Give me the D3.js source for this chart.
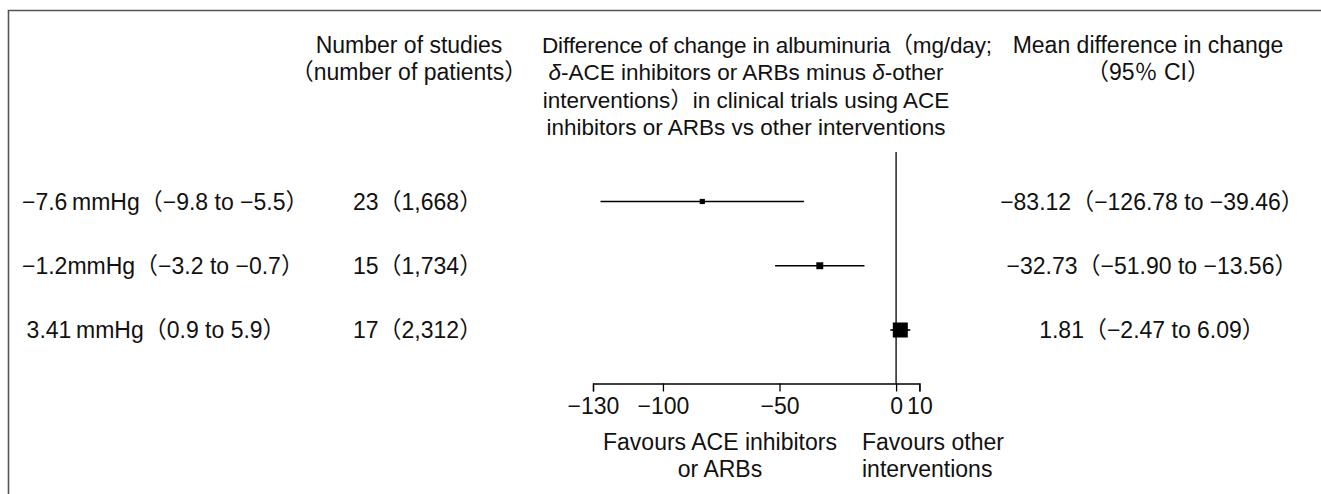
<!DOCTYPE html>
<html><head><meta charset="utf-8">
<script src="https://cdn.jsdelivr.net/npm/d3@7"></script>
<style>
html,body{margin:0;padding:0;background:#fff;}
svg{display:block;}
text{font-family:"Liberation Sans",Arial,"Noto Sans CJK JP",sans-serif;font-size:23px;fill:#111;}
</style></head>
<body><svg id="chart" width="1321" height="494"></svg>
<script>
// ---- data ----
const bpChange = ["−7.6\u2009mmHg（−9.8 to −5.5）", "−1.2mmHg（−3.2 to −0.7）", "\u20093.41\u2009mmHg（0.9 to 5.9）"];
const nStudies = [23, 15, 17];
const nPatients = [1668, 1734, 2312];
const meanDiff = [-83.12, -32.73, 1.81];
const ciLower = [-126.78, -51.90, -2.47];
const ciUpper = [-39.46, -13.56, 6.09];
const weights = [9, 16, 75];
const xTicks = [-130, -100, -50, 0, 10];
const headStudies = ["Number of studies", "（number of patients）"];
const headPlot = ["Difference of change in albuminuria（mg/day;", "δ-ACE inhibitors or ARBs minus δ-other", "interventions）in clinical trials using ACE", "inhibitors or ARBs vs other interventions"];
const headMean = ["Mean difference in change", "（95％ CI）"];
const favLeft = ["Favours ACE inhibitors", "or ARBs"];
const favRight = ["Favours other", "interventions"];

const svg = d3.select("#chart");
const x = d3.scaleLinear().domain([-130, 10]).range([593, 919.4]);
const y = d3.scalePoint().domain(d3.range(meanDiff.length)).range([201.5, 330]);
const size = d3.scaleSqrt().domain([0, d3.max(weights)]).range([0, 15]);
const f2 = d3.format(".2f");
const fc = d3.format(",");

// frame
svg.append("path").attr("d", "M8.5,494 L8.5,10.5 L1321,10.5")
  .attr("fill", "none").attr("stroke", "#555").attr("stroke-width", 1.6);

// headers
function lines(arr, xPos, y0, anchor) {
  svg.append("g").selectAll("text").data(arr).join("text")
    .attr("x", xPos).attr("y", (d, i) => y0 + i * 27.3)
    .attr("text-anchor", anchor).text(d => d);
}
lines(headStudies, 409, 53, "middle");
svg.append("g").selectAll("text").data(headPlot).join("text")
  .attr("x", (d, i) => i === 0 ? 542 : 746)
  .attr("y", (d, i) => 53 + i * 27.3)
  .attr("text-anchor", (d, i) => i === 0 ? "start" : "middle")
  .style("font-size", "22.5px")
  .each(function (d, i) {
    const t = d3.select(this);
    if (i === 0) t.attr("textLength", 450).attr("lengthAdjust", "spacing");
    const parts = d.split("δ");
    parts.forEach((p, j) => {
      if (j > 0) t.append("tspan").attr("font-style", "italic").text("δ");
      t.append("tspan").text(p);
    });
  });
lines(headMean, 1148, 53, "middle");

// rows
const rows = svg.append("g").selectAll("g").data(meanDiff).join("g");
rows.append("text").attr("x", 22).attr("y", (d, i) => y(i) + 8)
  .text((d, i) => bpChange[i]);
rows.append("text").attr("x", 353).attr("y", (d, i) => y(i) + 8)
  .text((d, i) => nStudies[i] + "（" + fc(nPatients[i]) + "）");
rows.append("text").attr("x", 1152).attr("y", (d, i) => y(i) + 8)
  .attr("text-anchor", "middle")
  .text((d, i) => f2(d) + "（" + f2(ciLower[i]) + " to " + f2(ciUpper[i]) + "）");

// zero line
svg.append("line").attr("x1", x(0)).attr("x2", x(0)).attr("y1", 152).attr("y2", 383.5)
  .attr("stroke", "#000").attr("stroke-width", 1.3);

// CI and markers
rows.append("line")
  .attr("x1", (d, i) => x(ciLower[i])).attr("x2", (d, i) => x(ciUpper[i]))
  .attr("y1", (d, i) => y(i)).attr("y2", (d, i) => y(i))
  .attr("stroke", "#000").attr("stroke-width", 1.6);
rows.append("rect")
  .attr("x", (d, i) => x(d) - size(weights[i]) / 2)
  .attr("y", (d, i) => y(i) - size(weights[i]) / 2)
  .attr("width", (d, i) => size(weights[i]))
  .attr("height", (d, i) => size(weights[i]))
  .attr("fill", "#000");

// axis
const axis = svg.append("g").attr("transform", "translate(0,383.5)")
  .call(d3.axisBottom(x).tickValues(xTicks).tickSize(8).tickPadding(6).tickFormat(d3.format("d")));
axis.select(".domain").attr("stroke", "#000").attr("stroke-width", 1.3);
axis.selectAll(".tick line").attr("stroke", "#000").attr("stroke-width", 1.3);
axis.selectAll(".tick text").attr("font-size", 22).attr("fill", "#111")
  .attr("font-family", "Liberation Sans, Arial, sans-serif");

// favours
lines(favLeft, 720, 450, "middle");
lines(favRight, 862, 450, "start");
</script></body></html>
